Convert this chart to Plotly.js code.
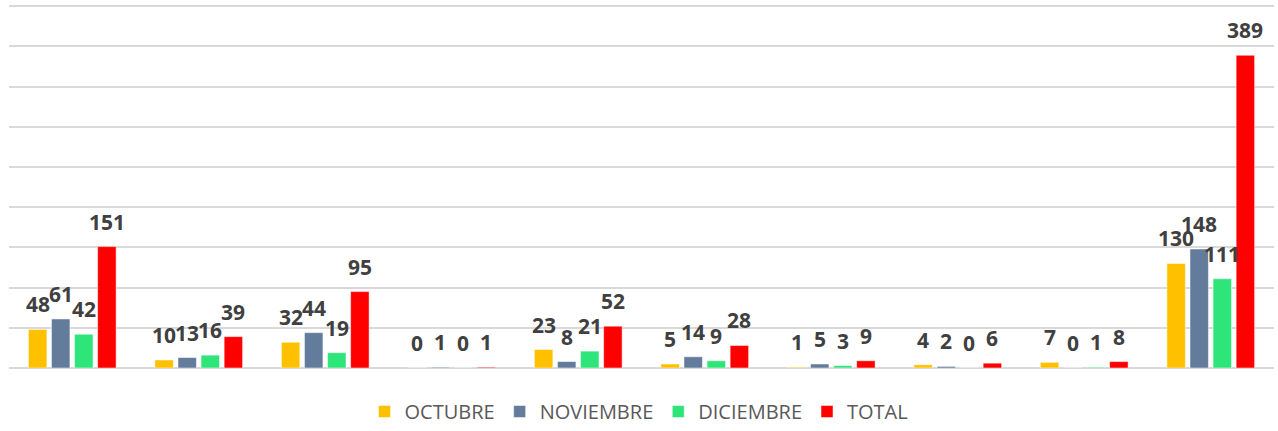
<!DOCTYPE html>
<html>
<head>
<meta charset="utf-8">
<script src="https://cdn.plot.ly/plotly-3.0.1.min.js"></script>
<style>html,body{margin:0;padding:0;background:#fff;}#chart{width:1278px;height:431px;}</style>
</head>
<body>
<div id="chart"></div>
<script>
const categories = ['G1','G2','G3','G4','G5','G6','G7','G8','G9','G10'];
const seriesNames = ['OCTUBRE','NOVIEMBRE','DICIEMBRE','TOTAL'];
const octubre   = [48, 10, 32, 0, 23, 5, 1, 4, 7, 130];
const noviembre = [61, 13, 44, 1, 8, 14, 5, 2, 0, 148];
const diciembre = [42, 16, 19, 0, 21, 9, 3, 0, 1, 111];
const total     = [151, 39, 95, 1, 52, 28, 9, 6, 8, 389];
const colors = ['#FFC000', '#647C9C', '#2EE57A', '#FF0000'];

const seriesValues = [octubre, noviembre, diciembre, total];
const W = 1278, H = 431;
const margin = {l: 9, r: 4, t: 5, b: 63};
const bargap = 0.27, bargroupgap = 0.2;

const traces = seriesValues.map((vals, i) => ({
  type: 'bar',
  name: seriesNames[i],
  x: categories,
  y: vals,
  marker: {color: colors[i], line: {color: '#ffffff', width: 0.5}},
  hoverinfo: 'skip'
}));

const plotW = W - margin.l - margin.r;
const catW = plotW / categories.length;
const slot = catW * (1 - bargap) / seriesValues.length;
const annotations = [];
seriesValues.forEach((vals, i) => {
  vals.forEach((v, j) => {
    annotations.push({
      x: categories[j], y: v, xref: 'x', yref: 'y',
      text: String(v), showarrow: false,
      xanchor: 'center', yanchor: 'bottom',
      xshift: (i - (seriesValues.length - 1) / 2) * slot,
      yshift: 9,
      font: {family: 'Open Sans', size: 21, weight: 'bold', color: '#404040'}
    });
  });
});

const layout = {
  width: W, height: H,
  margin: margin,
  paper_bgcolor: '#ffffff', plot_bgcolor: '#ffffff',
  barmode: 'group', bargap: bargap, bargroupgap: bargroupgap,
  showlegend: true,
  legend: {
    orientation: 'h', x: 0.5, xanchor: 'center', xref: 'container',
    y: 0, yanchor: 'bottom', yref: 'container',
    font: {family: 'Open Sans', size: 20, color: '#595959'},
    itemclick: false, itemdoubleclick: false, traceorder: 'normal'
  },
  xaxis: {showticklabels: false, showgrid: false, zeroline: false, showline: false, ticks: ''},
  yaxis: {range: [0, 451.5], tick0: 0, dtick: 50, showticklabels: false, showgrid: true,
          gridcolor: '#D9D9D9', gridwidth: 2, zeroline: true, zerolinecolor: '#D9D9D9', zerolinewidth: 2,
          showline: false, ticks: ''},
  annotations: annotations
};

Plotly.newPlot('chart', traces, layout, {displayModeBar: false, staticPlot: true});
</script>
</body>
</html>
